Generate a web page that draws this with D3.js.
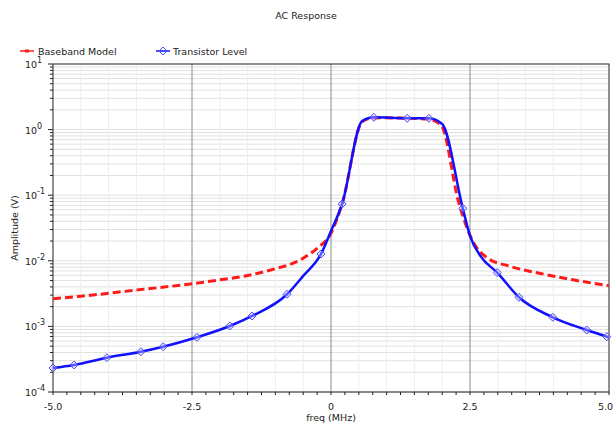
<!DOCTYPE html>
<html>
<head>
<meta charset="utf-8">
<script src="https://cdn.jsdelivr.net/npm/d3@7"></script>
<style>
  body { margin: 0; background: #fff; }
  svg { display: block; font-family: "DejaVu Sans", sans-serif; }
</style>
</head>
<body>
<svg id="chart" width="614" height="425"></svg>
<script>
// data (frequency in MHz, amplitude as log10 of volts)
const baseFreq = [-5, -4.5, -4, -3.5, -3, -2.5, -2, -1.5, -1, -0.75, -0.5, -0.25, 0, 0.2, 0.56,
                  0.75, 1.0, 1.25, 1.5, 1.75, 1.98, 2.3, 2.55, 2.8, 3.2, 3.75, 4.35, 5]
const baseLog = [-2.58, -2.54, -2.495, -2.445, -2.40, -2.35, -2.29, -2.225, -2.12, -2.06, -1.96, -1.81, -1.58, -1.13, 0.12,
                 0.175, 0.18, 0.175, 0.17, 0.16, 0.07, -1.12, -1.70, -1.95, -2.08, -2.19, -2.29, -2.38]

const tranFreq = [-5, -4.62, -4.03, -3.42, -3.02, -2.41, -1.82, -1.42, -0.79, -0.5, -0.18, 0, 0.2, 0.56,
                  0.77, 1.37, 1.76, 2.0, 2.37, 2.5, 2.7, 2.99, 3.38, 3.99, 4.6, 4.96, 5]
const tranLog = [-3.634, -3.588, -3.477, -3.386, -3.31, -3.166, -2.994, -2.841, -2.51, -2.23, -1.896, -1.546, -1.134, 0.131,
                 0.187, 0.172, 0.172, 0.085, -1.2, -1.62, -1.94, -2.18, -2.556, -2.861, -3.055, -3.157, -3.17]
const tranMarkers = [-5, -4.62, -4.03, -3.42, -3.02, -2.41, -1.82, -1.42, -0.79, -0.18, 0.2,
                     0.77, 1.37, 1.76, 2.37, 2.99, 3.38, 3.99, 4.6, 4.96]

const xTicks = [-5, -2.5, 0, 2.5, 5]
const xTickLabels = ["-5.0", "-2.5", "0", "2.5", "5.0"]
const yExponents = [1, 0, -1, -2, -3, -4]

const margin = {top: 64, right: 5, bottom: 33, left: 53}
const width = 614 - margin.left - margin.right
const height = 425 - margin.top - margin.bottom

const svg = d3.select("#chart")

svg.append("text")
    .attr("x", 306).attr("y", 19)
    .attr("text-anchor", "middle")
    .attr("font-size", "9.5px")
    .attr("fill", "#222")
    .text("AC Response")

const g = svg.append("g")
    .attr("transform", `translate(${margin.left},${margin.top})`)

const xScale = d3.scaleLinear().domain([-5, 5]).range([0, width])
const yScale = d3.scaleLog().domain([1e-4, 10]).range([height, 0])

// grid
const minorY = []
for (let e = -4; e < 1; e++) {
    for (let m = 1; m < 10; m++) minorY.push(m * Math.pow(10, e))
}
g.append("g").selectAll("line")
    .data(minorY)
    .enter().append("line")
        .attr("x1", 0).attr("x2", width)
        .attr("y1", d => yScale(d)).attr("y2", d => yScale(d))
        .attr("stroke", "#e0e0e0")
        .attr("stroke-width", 1)

const minorX = d3.range(-4.5, 5, 0.5).filter(d => Math.abs(d % 2.5) > 0.01)
g.append("g").selectAll("line")
    .data(minorX)
    .enter().append("line")
        .attr("x1", d => xScale(d)).attr("x2", d => xScale(d))
        .attr("y1", 0).attr("y2", height)
        .attr("stroke", "#ededed")

g.append("g").selectAll("line")
    .data([-2.5, 0, 2.5])
    .enter().append("line")
        .attr("x1", d => xScale(d)).attr("x2", d => xScale(d))
        .attr("y1", 0).attr("y2", height)
        .attr("stroke", "#8a8a8a")

// frame
g.append("rect")
    .attr("width", width).attr("height", height)
    .attr("fill", "none")
    .attr("stroke", "#222")

// x axis ticks
const xAxis = g.append("g").attr("transform", `translate(0,${height})`)
xAxis.selectAll("line.minor")
    .data(d3.range(-5, 5.001, 0.25))
    .enter().append("line")
        .attr("x1", d => xScale(d)).attr("x2", d => xScale(d))
        .attr("y1", 0).attr("y2", 3)
        .attr("stroke", "#222")
xAxis.selectAll("text")
    .data(xTicks)
    .enter().append("text")
        .attr("x", d => d === 5 ? width + 4 : xScale(d))
        .attr("y", 18)
        .attr("text-anchor", d => d === 5 ? "end" : "middle")
        .attr("font-size", "9.5px")
        .attr("fill", "#222")
        .text((d, i) => xTickLabels[i])

svg.append("text")
    .attr("x", margin.left + xScale(0))
    .attr("y", 421)
    .attr("text-anchor", "middle")
    .attr("font-size", "9.5px")
    .attr("fill", "#222")
    .text("freq (MHz)")

// y axis ticks
const yAxis = g.append("g")
yAxis.selectAll("line")
    .data(minorY.concat([10]))
    .enter().append("line")
        .attr("x1", d => Math.abs(Math.log10(d) % 1) < 1e-6 ? -5 : -3).attr("x2", 0)
        .attr("y1", d => yScale(d)).attr("y2", d => yScale(d))
        .attr("stroke", "#222")
const yLab = yAxis.selectAll("text")
    .data(yExponents)
    .enter().append("text")
        .attr("x", -28)
        .attr("y", d => yScale(Math.pow(10, d)) + 4)
        .attr("font-size", "9.5px")
        .attr("fill", "#222")
yLab.append("tspan").text("10")
yLab.append("tspan")
    .attr("dy", -5)
    .attr("font-size", "8px")
    .text(d => d)

svg.append("text")
    .attr("transform", `translate(18,${margin.top + height / 2}) rotate(-90)`)
    .attr("text-anchor", "middle")
    .attr("font-size", "9.5px")
    .attr("fill", "#222")
    .text("Amplitude (V)")

// lines
const line = d3.line()
    .x(d => xScale(d[0]))
    .y(d => yScale(Math.pow(10, d[1])))
    .curve(d3.curveMonotoneX)

const clip = g.append("defs").append("clipPath").attr("id", "clip")
clip.append("rect").attr("width", width).attr("height", height)

const plot = g.append("g").attr("clip-path", "url(#clip)")

plot.append("path")
    .datum(baseFreq.map((f, i) => [f, baseLog[i]]))
    .attr("d", line)
    .attr("fill", "none")
    .attr("stroke", "#ff1a1a")
    .attr("stroke-width", 3)
    .attr("stroke-dasharray", "8,4")

const tranData = tranFreq.map((f, i) => [f, tranLog[i]])
plot.append("path")
    .datum(tranData)
    .attr("d", line)
    .attr("fill", "none")
    .attr("stroke", "#1010ff")
    .attr("stroke-width", 2.5)

const diamond = "M0,-4L4,0L0,4L-4,0Z"
g.append("g").selectAll("path")
    .data(tranData.filter(d => tranMarkers.includes(d[0])))
    .enter().append("path")
        .attr("transform", d => `translate(${xScale(d[0])},${yScale(Math.pow(10, d[1]))})`)
        .attr("d", diamond)
        .attr("fill", "rgba(200,200,255,0.4)")
        .attr("stroke", "#4a4aff")
        .attr("stroke-width", 1)

// legend
const legend = svg.append("g").attr("transform", "translate(20,51)")
legend.append("line")
    .attr("x1", 0).attr("x2", 14)
    .attr("stroke", "#ff1a1a").attr("stroke-width", 1.5)
legend.append("rect")
    .attr("x", 5).attr("y", -1.5).attr("width", 4).attr("height", 3)
    .attr("fill", "#ff1a1a")
legend.append("text")
    .attr("x", 18).attr("y", 3.5)
    .attr("font-size", "9.5px").attr("fill", "#222")
    .text("Baseband Model")
legend.append("line")
    .attr("x1", 136).attr("x2", 150)
    .attr("stroke", "#1010ff").attr("stroke-width", 1.5)
legend.append("path")
    .attr("transform", "translate(143,0)")
    .attr("d", diamond)
    .attr("fill", "none")
    .attr("stroke", "#4a4aff")
legend.append("text")
    .attr("x", 153).attr("y", 3.5)
    .attr("font-size", "9.5px").attr("fill", "#222")
    .text("Transistor Level")
</script>
</body>
</html>
